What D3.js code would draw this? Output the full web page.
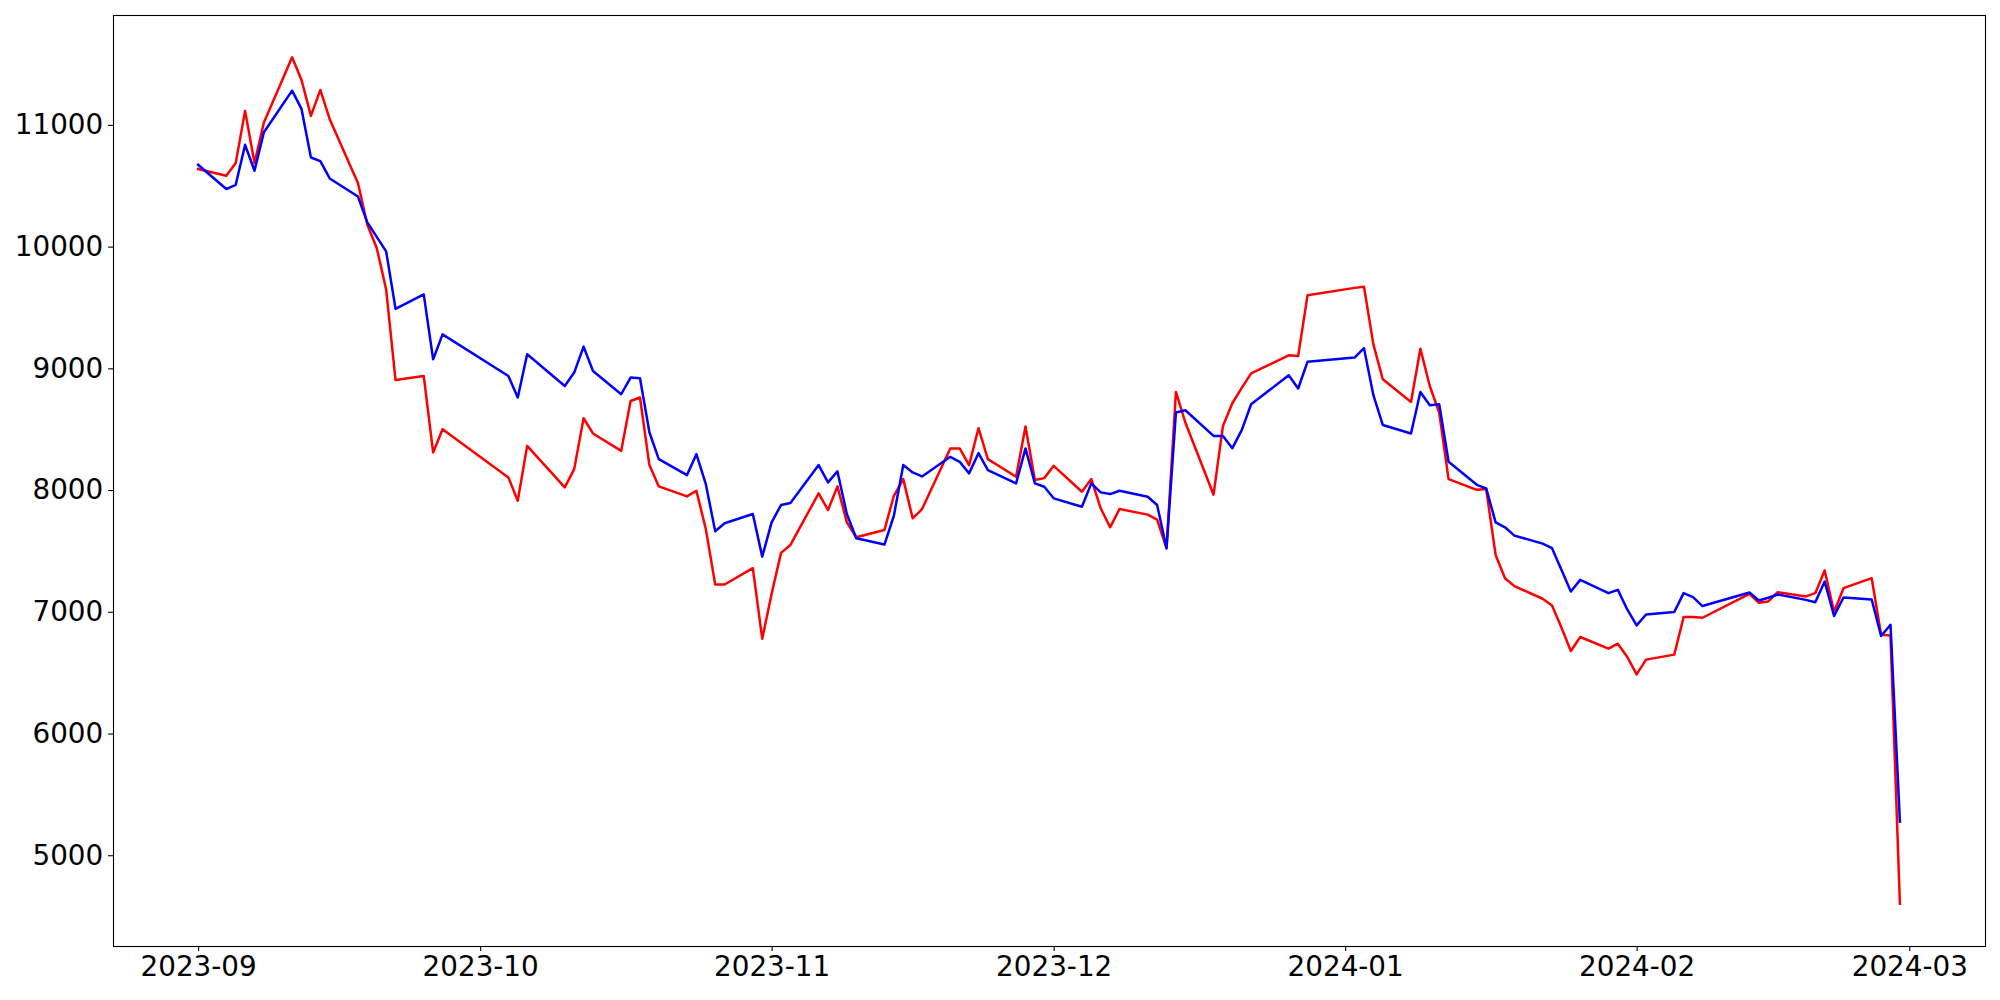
<!DOCTYPE html>
<html>
<head>
<meta charset="utf-8">
<script src="https://cdn.jsdelivr.net/npm/d3@7"></script>
<style>
  body { margin: 0; background: #fff; }
  svg text { font-family: "DejaVu Sans", sans-serif; }
</style>
</head>
<body>
<div id="chart"></div>
<script>
// trading days
var dates = [
  "2023-09-01","2023-09-04","2023-09-05","2023-09-06","2023-09-07","2023-09-08",
  "2023-09-11","2023-09-12","2023-09-13","2023-09-14","2023-09-15",
  "2023-09-18","2023-09-19","2023-09-20","2023-09-21","2023-09-22",
  "2023-09-25","2023-09-26","2023-09-27",
  "2023-10-04","2023-10-05","2023-10-06",
  "2023-10-10","2023-10-11","2023-10-12","2023-10-13",
  "2023-10-16","2023-10-17","2023-10-18","2023-10-19","2023-10-20",
  "2023-10-23","2023-10-24","2023-10-25","2023-10-26","2023-10-27",
  "2023-10-30","2023-10-31",
  "2023-11-01","2023-11-02","2023-11-03",
  "2023-11-06","2023-11-07","2023-11-08","2023-11-09","2023-11-10",
  "2023-11-13","2023-11-14","2023-11-15","2023-11-16","2023-11-17",
  "2023-11-20","2023-11-21","2023-11-22","2023-11-23","2023-11-24",
  "2023-11-27","2023-11-28","2023-11-29","2023-11-30",
  "2023-12-01",
  "2023-12-04","2023-12-05","2023-12-06","2023-12-07","2023-12-08",
  "2023-12-11","2023-12-12","2023-12-13","2023-12-14","2023-12-15",
  "2023-12-18","2023-12-19","2023-12-20","2023-12-21","2023-12-22",
  "2023-12-26","2023-12-27","2023-12-28",
  "2024-01-02","2024-01-03","2024-01-04","2024-01-05",
  "2024-01-08","2024-01-09","2024-01-10","2024-01-11","2024-01-12",
  "2024-01-15","2024-01-16","2024-01-17","2024-01-18","2024-01-19",
  "2024-01-22","2024-01-23","2024-01-24","2024-01-25","2024-01-26",
  "2024-01-29","2024-01-30","2024-01-31",
  "2024-02-01","2024-02-02",
  "2024-02-05","2024-02-06","2024-02-07","2024-02-08",
  "2024-02-13","2024-02-14","2024-02-15","2024-02-16",
  "2024-02-19","2024-02-20","2024-02-21","2024-02-22","2024-02-23",
  "2024-02-26","2024-02-27","2024-02-28","2024-02-29"
];

var redValues = [
  10637,10582,10686,11115,10686,11019, 11555,11369,11074,11287,11047,
  10522,10180,9989,9648,8904, 8937,8309,8500,
  8104,7912,8363, 8022,8172,8590,8465, 8322,8732,8760,8205,8030,
  7948,7994,7680,7224,7224, 7358,6779,
  7148,7484,7549, 7973,7836,8030,7735,7612, 7672,7953,8090,7768,7844,
  8342,8342,8205,8508,8254, 8109,8522,8082,8098,
  8199, 7986,8090,7850,7694,7844, 7798,7757,7522,8806,8555,
  7962,8527,8713,8839,8959, 9107,9101,9601,
  9661,9670,9197,8910, 8724,9161,8855,8637,8090, 8002,8008,7467,7276,7211,
  7107,7052,6870,6678,6793, 6697,6738,6629,
  6486,6607, 6648,6957,6957,6951, 7148,7074,7085,7161,
  7126,7153,7339,6998,7194, 7276,6811,6806,4602
];

var blueValues = [
  10672,10473,10508,10836,10623,10940, 11281,11131,10732,10702,10560,
  10412,10199,10080,9961,9489, 9607,9074,9279,
  8937,8760,9115, 8855,8965,9178,8978, 8787,8924,8918,8475,8254,
  8123,8295,8049,7661,7727, 7803,7453,
  7735,7877,7893, 8205,8063,8153,7803,7604, 7552,7789,8205,8145,8112,
  8273,8232,8137,8303,8164, 8055,8342,8055,8027,
  7932, 7863,8055,7981,7967,7994, 7945,7877,7522,8637,8656,
  8445,8445,8344,8492,8705, 8943,8834,9055,
  9088,9166,8779,8535, 8465,8806,8697,8705,8232, 8043,8014,7735,7694,7626,
  7560,7522,7345,7166,7262, 7153,7180,7019,
  6888,6978, 6998,7153,7120,7047, 7158,7093,7115,7142,
  7098,7079,7248,6965,7117, 7101,6801,6893,5276
];

var yTicks = [5000, 6000, 7000, 8000, 9000, 10000, 11000];
var xTicks = ["2023-09-01","2023-10-01","2023-11-01","2023-12-01","2024-01-01","2024-02-01","2024-03-01"];

var width = 2000, height = 1000;
var margin = {top: 15, right: 15, bottom: 54, left: 113};
var fontSize = "27.8px";

var parse = d3.utcParse("%Y-%m-%d");
var days = dates.map(parse);

var redData = days.map(function(d, i){ return {date: d, value: redValues[i]}; });
var blueData = days.map(function(d, i){ return {date: d, value: blueValues[i]}; });

// matplotlib style 5% margins
var tExt = d3.extent(days);
var tPad = (tExt[1] - tExt[0]) * 0.05;
var vAll = redValues.concat(blueValues);
var vExt = d3.extent(vAll);
var vPad = (vExt[1] - vExt[0]) * 0.05;

var x = d3.scaleUtc()
    .domain([new Date(+tExt[0] - tPad), new Date(+tExt[1] + tPad)])
    .range([margin.left, width - margin.right]);

var y = d3.scaleLinear()
    .domain([vExt[0] - vPad, vExt[1] + vPad])
    .range([height - margin.bottom, margin.top]);

var svg = d3.select("#chart").append("svg")
    .attr("width", width)
    .attr("height", height);

var line = d3.line()
    .x(function(d){ return x(d.date); })
    .y(function(d){ return y(d.value); });

svg.append("path")
    .datum(redData)
    .attr("d", line)
    .attr("fill", "none")
    .attr("stroke", "#ff0000")
    .attr("stroke-width", 2.5)
    .attr("stroke-linejoin", "round")
    .attr("stroke-linecap", "square");

svg.append("path")
    .datum(blueData)
    .attr("d", line)
    .attr("fill", "none")
    .attr("stroke", "#0000ff")
    .attr("stroke-width", 2.5)
    .attr("stroke-linejoin", "round")
    .attr("stroke-linecap", "square");

var xAxis = svg.append("g")
    .attr("transform", "translate(0," + (height - margin.bottom) + ")")
    .call(d3.axisBottom(x)
      .tickValues(xTicks.map(parse))
      .tickFormat(d3.utcFormat("%Y-%m"))
      .tickSize(4.9)
      .tickPadding(4.9));

var yAxis = svg.append("g")
    .attr("transform", "translate(" + margin.left + ",0)")
    .call(d3.axisLeft(y)
      .tickValues(yTicks)
      .tickFormat(d3.format("d"))
      .tickSize(4.9)
      .tickPadding(4.9));

[xAxis, yAxis].forEach(function(a){
  a.select(".domain").remove();
  a.selectAll(".tick line").attr("stroke", "#000").attr("stroke-width", 1.1);
  a.selectAll(".tick text")
    .attr("fill", "#000")
    .style("font-size", fontSize)
    .style("font-family", "'DejaVu Sans', sans-serif");
});

// frame
svg.append("rect")
    .attr("x", margin.left + 0.5)
    .attr("y", margin.top + 0.5)
    .attr("width", width - margin.left - margin.right)
    .attr("height", height - margin.top - margin.bottom)
    .attr("fill", "none")
    .attr("stroke", "#000")
    .attr("stroke-width", 1.1);
</script>
</body>
</html>
